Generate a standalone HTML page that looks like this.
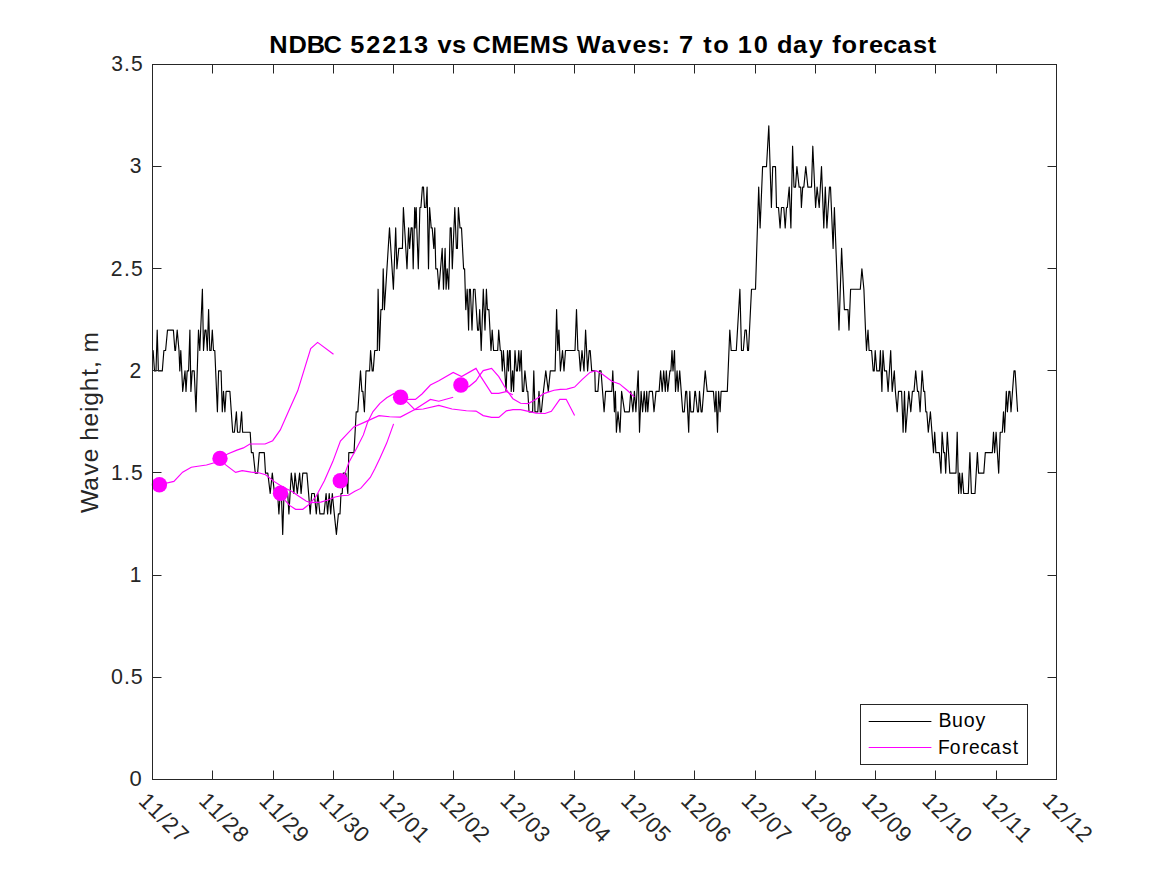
<!DOCTYPE html><html><head><meta charset="utf-8"><style>html,body{margin:0;padding:0;background:#fff;}svg{display:block;}text{font-family:"Liberation Sans",sans-serif;}</style></head><body>
<svg width="1167" height="875" viewBox="0 0 1167 875">
<rect x="0" y="0" width="1167" height="875" fill="#fff"/>
<defs><clipPath id="c"><rect x="152.5" y="64.5" width="904.0" height="715.0"/></clipPath></defs>
<polyline clip-path="url(#c)" points="151.8,350.5 153.1,350.5 154.5,370.9 156.0,370.9 157.2,330.1 158.4,370.9 162.3,370.9 163.9,350.5 165.6,350.5 167.5,330.1 173.4,330.1 174.9,350.5 175.5,350.5 177.2,330.1 179.0,350.5 179.8,370.9 180.8,350.5 182.7,391.4 185.0,370.9 186.0,391.4 187.2,370.9 188.6,370.9 189.9,330.1 190.9,391.4 192.2,370.9 194.2,370.9 196.0,411.8 198.5,330.1 199.8,350.5 202.4,289.2 203.5,350.5 205.0,330.1 206.0,330.1 207.3,350.5 208.6,309.6 209.8,350.5 211.1,350.5 212.3,330.1 213.5,350.5 214.8,350.5 217.4,411.8 218.6,370.9 221.1,370.9 222.3,411.8 223.5,391.4 224.9,411.8 226.1,391.4 229.9,391.4 232.7,432.2 234.4,432.2 236.4,411.8 237.5,432.2 239.9,432.2 241.6,411.8 242.6,432.2 250.2,432.2 251.4,452.6 253.1,452.6 255.3,473.1 257.6,473.1 259.3,452.6 264.3,452.6 265.5,473.1 267.8,473.1 270.2,493.5 272.3,473.1 274.5,493.5 277.6,493.5 278.9,513.9 280.2,493.5 281.4,493.5 282.7,534.4 284.0,493.5 287.7,493.5 288.9,513.9 290.1,493.5 291.3,473.1 293.9,493.5 295.0,473.1 297.3,493.5 299.6,473.1 301.1,493.5 302.8,473.1 306.9,473.1 308.6,493.5 310.2,513.9 311.7,493.5 314.3,493.5 316.3,513.9 317.9,493.5 319.9,513.9 324.0,513.9 326.1,493.5 327.6,513.9 329.2,493.5 330.7,513.9 332.3,493.5 334.3,513.9 336.4,534.4 338.4,513.9 340.0,513.9 341.0,493.5 342.2,493.5 343.2,473.1 345.8,473.1 347.8,493.5 348.8,452.6 354.0,452.6 356.2,411.8 357.8,411.8 360.5,370.9 361.9,391.4 362.9,391.4 364.4,411.8 366.0,370.9 369.6,370.9 370.6,350.5 372.2,370.9 373.2,370.9 374.7,350.5 377.3,350.5 378.1,289.2 379.4,350.5 380.9,309.6 382.4,309.6 383.2,268.8 384.4,309.6 389.5,227.9 393.4,289.2 395.7,227.9 396.9,268.8 398.8,248.4 402.4,248.4 403.4,207.5 407.0,268.8 408.6,227.9 409.6,248.4 411.1,227.9 412.2,227.9 413.2,268.8 414.7,207.5 415.2,227.9 416.2,207.5 416.8,227.9 418.3,268.8 419.9,207.5 420.9,207.5 422.4,187.1 423.5,187.1 424.5,207.5 426.0,207.5 427.1,187.1 428.5,268.8 429.6,207.5 431.2,227.9 432.2,227.9 433.8,248.4 434.8,227.9 435.8,268.8 437.4,268.8 438.9,289.2 442.2,248.4 443.5,289.2 445.1,248.4 446.1,289.2 447.2,268.8 448.7,289.2 450.2,227.9 451.2,227.9 452.3,268.8 454.8,207.5 456.4,248.4 457.4,248.4 458.4,207.5 460.0,227.9 461.5,227.9 463.6,268.8 464.6,268.8 465.8,309.6 467.2,289.2 468.6,330.1 469.4,289.2 470.4,289.2 472.0,330.1 473.5,289.2 475.0,289.2 477.6,330.1 478.7,330.1 479.7,309.6 481.2,350.5 483.3,289.2 485.0,330.1 486.4,289.2 487.4,309.6 488.9,309.6 491.0,350.5 492.2,330.1 493.6,350.5 497.7,350.5 498.7,330.1 500.3,350.5 501.3,350.5 502.3,370.9 503.4,350.5 506.1,391.4 507.5,350.5 508.5,370.9 509.5,350.5 510.2,350.5 511.2,391.4 512.6,370.9 513.6,391.4 515.0,350.5 516.4,370.9 517.4,370.9 518.8,350.5 519.8,370.9 521.2,350.5 522.4,391.4 523.6,391.4 524.9,370.9 527.0,391.4 527.8,391.4 529.0,411.8 532.6,411.8 533.8,370.9 535.0,411.8 537.8,411.8 539.0,391.4 540.2,411.8 541.4,411.8 543.4,391.4 545.8,370.9 548.3,391.4 550.3,370.9 555.1,370.9 556.6,309.6 557.8,350.5 558.9,330.1 560.4,370.9 562.5,350.5 564.0,370.9 565.5,350.5 575.0,350.5 576.5,309.6 577.9,350.5 578.9,350.5 580.4,370.9 582.0,350.5 584.0,370.9 585.6,330.1 587.6,370.9 589.2,350.5 590.2,350.5 591.7,370.9 594.8,370.9 595.3,391.4 597.9,391.4 599.4,370.9 601.0,370.9 604.1,411.8 605.6,391.4 611.8,391.4 612.8,370.9 614.4,411.8 615.4,391.4 616.4,432.2 618.0,411.8 620.0,432.2 621.6,391.4 624.6,411.8 629.3,411.8 630.8,391.4 632.9,411.8 634.4,391.4 635.9,411.8 638.2,370.9 639.5,432.2 641.1,391.4 642.6,411.8 644.2,391.4 645.7,411.8 646.7,391.4 647.8,411.8 649.3,391.4 652.4,391.4 654.0,411.8 656.0,391.4 659.1,391.4 660.6,370.9 662.2,391.4 663.7,370.9 665.3,391.4 666.3,370.9 667.8,391.4 669.9,370.9 670.9,370.9 672.0,350.5 673.0,370.9 674.5,350.5 675.5,391.4 677.1,370.9 678.1,391.4 679.7,370.9 682.7,411.8 684.3,411.8 685.7,391.4 686.7,391.4 688.7,432.2 689.8,391.4 690.8,411.8 693.4,411.8 694.9,391.4 695.4,391.4 697.5,411.8 698.5,411.8 699.5,391.4 701.1,411.8 702.1,411.8 705.2,370.9 707.2,391.4 713.4,391.4 715.0,411.8 716.0,391.4 717.5,432.2 718.6,391.4 720.1,411.8 721.1,391.4 727.3,391.4 729.8,330.1 731.2,350.5 736.3,350.5 739.9,289.2 741.5,350.5 743.3,350.5 745.0,330.1 746.3,330.1 747.6,350.5 748.5,350.5 751.5,289.2 755.5,289.2 758.7,187.1 760.1,227.9 762.6,166.6 766.5,166.6 768.8,125.8 771.4,207.5 772.7,166.6 775.5,166.6 776.5,207.5 778.5,207.5 780.1,227.9 781.5,207.5 783.8,207.5 785.2,227.9 786.5,207.5 787.3,207.5 789.2,187.1 790.9,227.9 792.6,146.2 794.0,187.1 795.5,187.1 796.9,166.6 799.1,187.1 800.7,187.1 801.4,207.5 802.7,187.1 803.8,187.1 805.8,166.6 807.9,187.1 811.5,187.1 812.8,146.2 815.6,207.5 817.1,187.1 819.2,207.5 821.5,166.6 823.8,227.9 825.3,187.1 826.9,227.9 829.5,187.1 830.5,187.1 833.1,248.4 834.4,207.5 839.0,330.1 841.6,248.4 844.4,309.6 848.0,309.6 849.0,330.1 850.6,289.2 860.3,289.2 861.9,268.8 863.9,289.2 865.5,330.1 866.5,350.5 868.0,330.1 869.1,350.5 871.6,350.5 873.2,370.9 874.2,370.9 875.2,350.5 876.8,370.9 879.4,370.9 880.4,350.5 881.9,391.4 883.0,350.5 884.5,370.9 886.6,370.9 888.1,391.4 890.7,350.5 892.2,391.4 894.3,370.9 895.4,391.4 897.2,411.8 898.5,391.4 901.6,391.4 903.1,432.2 904.5,391.4 905.7,432.2 908.8,391.4 910.8,411.8 912.4,391.4 914.0,391.4 915.7,370.9 917.5,391.4 918.6,391.4 920.1,411.8 922.1,370.9 923.7,391.4 924.7,391.4 925.8,411.8 926.8,411.8 928.3,432.2 930.4,411.8 933.5,452.6 934.7,432.2 935.9,452.6 939.3,452.6 941.0,473.1 942.1,432.2 943.7,452.6 944.7,452.6 945.7,473.1 947.3,432.2 949.8,473.1 956.0,473.1 957.2,432.2 958.6,493.5 959.6,473.1 961.1,493.5 962.2,473.1 963.7,493.5 968.3,493.5 969.9,452.6 971.4,493.5 975.0,493.5 977.4,452.6 978.6,473.1 983.8,473.1 985.3,452.6 992.3,452.6 993.5,432.2 994.6,452.6 996.1,432.2 998.7,473.1 1000.2,432.2 1002.3,432.2 1003.5,411.8 1004.6,432.2 1006.3,391.4 1007.4,411.8 1008.9,391.4 1009.9,391.4 1011.0,411.8 1014.0,370.9 1015.1,370.9 1017.6,411.8" fill="none" stroke="#000" stroke-width="1.15" stroke-linejoin="round"/>
<polyline clip-path="url(#c)" points="159.4,484.8 173.9,481.4 182.6,472.2 191.3,467.2 197.8,466.2 206.5,465.0 215.1,462.5 219.5,458.1 228.2,453.8 236.9,450.1 243.4,447.9 249.9,444.0 265.1,444.0 272.7,440.7 280.3,429.9 289.0,410.3 297.7,390.8 310.7,348.5 317.6,342.4 333.5,354.3" fill="none" stroke="#f0f" stroke-width="1.15"/>
<polyline clip-path="url(#c)" points="220.0,458.4 225.4,464.6 235.6,472.4 242.2,470.6 251.2,472.1 259.6,473.0 265.6,474.8 274.0,481.4 282.4,486.8 292.0,491.6 299.2,496.4 306.4,501.2 311.2,502.6 320.8,502.1 328.0,500.0 335.2,497.0 341.2,495.8 348.4,495.2 354.4,491.6 360.7,488.4 370.3,477.4 375.0,468.5 379.9,458.2 386.7,443.1 393.6,423.9" fill="none" stroke="#f0f" stroke-width="1.15"/>
<polyline clip-path="url(#c)" points="280.5,493.3 285.4,500.6 289.6,505.4 295.6,509.3 302.8,509.3 310.0,503.6 316.0,496.4 324.4,480.8 332.8,461.6 340.4,441.0 353.8,426.9 364.2,422.4 379.0,415.7 389.6,416.8 400.4,417.1 414.8,409.6 430.4,399.4 438.8,401.2 453.2,397.2" fill="none" stroke="#f0f" stroke-width="1.15"/>
<polyline clip-path="url(#c)" points="340.3,480.7 344.8,473.6 349.0,462.3 356.5,448.6 363.4,434.9 367.5,422.5 373.0,411.6 379.9,403.3 386.7,397.8 393.6,393.7 400.5,396.5 407.6,399.4 415.4,399.4 422.0,394.0 430.4,385.0 438.8,380.8 453.2,372.4 461.6,376.6 476.0,368.4 480.8,376.6 491.6,393.4 498.8,393.4 506.0,391.6 512.9,394.8" fill="none" stroke="#f0f" stroke-width="1.15"/>
<polyline clip-path="url(#c)" points="400.6,397.2 407.6,402.4 414.8,409.6 423.2,409.0 438.8,405.4 452.0,409.0 466.4,410.8 476.0,411.1 483.2,415.6 491.6,417.4 498.8,417.4 506.4,410.9 512.9,409.6 520.6,409.6 529.6,411.6 536.0,413.1 545.0,413.5 551.4,411.3 559.8,399.3 566.2,399.3 574.6,415.4" fill="none" stroke="#f0f" stroke-width="1.15"/>
<polyline clip-path="url(#c)" points="460.9,385.0 468.8,386.8 476.0,380.8 479.6,375.4 483.2,370.6 491.6,368.4 498.8,376.6 506.4,389.7 512.9,398.7 520.6,403.2 528.3,403.6 536.0,399.3 543.7,393.6 554.0,390.3 560.4,389.4 566.8,389.1 574.6,387.1 582.3,379.4 590.0,372.4 595.8,370.7 601.5,373.6 611.8,381.3 619.5,383.9 627.2,390.3 634.3,396.8" fill="none" stroke="#f0f" stroke-width="1.15"/>
<circle cx="159.4" cy="484.8" r="7.7" fill="#f0f"/>
<circle cx="220.0" cy="458.4" r="7.7" fill="#f0f"/>
<circle cx="280.5" cy="493.3" r="7.7" fill="#f0f"/>
<circle cx="340.3" cy="480.7" r="7.7" fill="#f0f"/>
<circle cx="400.6" cy="397.2" r="7.7" fill="#f0f"/>
<circle cx="460.9" cy="385.0" r="7.7" fill="#f0f"/>
<rect x="152.5" y="64.5" width="904.0" height="715.0" fill="none" stroke="#262626" stroke-width="1"/>
<path d="M152.5 779.5V770.5M152.5 64.5V73.5M212.5 779.5V770.5M212.5 64.5V73.5M273.5 779.5V770.5M273.5 64.5V73.5M333.5 779.5V770.5M333.5 64.5V73.5M393.5 779.5V770.5M393.5 64.5V73.5M453.5 779.5V770.5M453.5 64.5V73.5M514.5 779.5V770.5M514.5 64.5V73.5M574.5 779.5V770.5M574.5 64.5V73.5M634.5 779.5V770.5M634.5 64.5V73.5M694.5 779.5V770.5M694.5 64.5V73.5M755.5 779.5V770.5M755.5 64.5V73.5M815.5 779.5V770.5M815.5 64.5V73.5M875.5 779.5V770.5M875.5 64.5V73.5M935.5 779.5V770.5M935.5 64.5V73.5M996.5 779.5V770.5M996.5 64.5V73.5M1056.5 779.5V770.5M1056.5 64.5V73.5M152.5 779.5H161.5M1056.5 779.5H1047.5M152.5 677.5H161.5M1056.5 677.5H1047.5M152.5 575.5H161.5M1056.5 575.5H1047.5M152.5 472.5H161.5M1056.5 472.5H1047.5M152.5 370.5H161.5M1056.5 370.5H1047.5M152.5 268.5H161.5M1056.5 268.5H1047.5M152.5 166.5H161.5M1056.5 166.5H1047.5M152.5 64.5H161.5M1056.5 64.5H1047.5" stroke="#262626" stroke-width="1" fill="none"/>
<text x="0.53" y="0" font-size="22.60" fill="#262626" transform="translate(129.05,786.30) scale(0.9717,1)">0</text>
<text x="0.69 14.30 21.54" y="0" font-size="22.60" fill="#262626" transform="translate(110.37,684.16) scale(0.9493,1)">0.5</text>
<text x="0.74" y="0" font-size="22.60" fill="#262626" transform="translate(129.05,582.01) scale(0.9281,1)">1</text>
<text x="0.73 14.67 22.14" y="0" font-size="22.60" fill="#262626" transform="translate(110.37,479.87) scale(0.9295,1)">1.5</text>
<text x="0.49" y="0" font-size="22.60" fill="#262626" transform="translate(129.05,377.73) scale(0.9366,1)">2</text>
<text x="0.52 14.60 22.02" y="0" font-size="22.60" fill="#262626" transform="translate(110.37,275.59) scale(0.9332,1)">2.5</text>
<text x="0.84" y="0" font-size="22.60" fill="#262626" transform="translate(129.05,173.44) scale(0.9332,1)">3</text>
<text x="0.85 14.63 22.07" y="0" font-size="22.60" fill="#262626" transform="translate(110.37,71.30) scale(0.9317,1)">3.5</text>
<text x="0.50 14.29 28.11 35.22 49.26" y="0" font-size="22.60" fill="#262626" transform="translate(137.20,801.80) rotate(45) scale(0.9607,1)">11/27</text>
<text x="0.44 14.14 27.88 34.92 48.90" y="0" font-size="22.60" fill="#262626" transform="translate(197.47,801.80) rotate(45) scale(0.9678,1)">11/28</text>
<text x="0.41 14.04 27.73 34.72 48.56" y="0" font-size="22.60" fill="#262626" transform="translate(257.73,801.80) rotate(45) scale(0.9726,1)">11/29</text>
<text x="0.47 14.21 27.99 35.38 49.09" y="0" font-size="22.60" fill="#262626" transform="translate(318.00,801.80) rotate(45) scale(0.9644,1)">11/30</text>
<text x="0.46 14.02 27.95 35.30 48.92" y="0" font-size="22.60" fill="#262626" transform="translate(378.27,801.80) rotate(45) scale(0.9654,1)">12/01</text>
<text x="0.45 13.99 27.91 35.24 48.67" y="0" font-size="22.60" fill="#262626" transform="translate(438.53,801.80) rotate(45) scale(0.9669,1)">12/02</text>
<text x="0.46 14.01 27.94 35.29 49.04" y="0" font-size="22.60" fill="#262626" transform="translate(498.80,801.80) rotate(45) scale(0.9658,1)">12/03</text>
<text x="0.40 13.83 27.67 34.92 48.52" y="0" font-size="22.60" fill="#262626" transform="translate(559.07,801.80) rotate(45) scale(0.9744,1)">12/04</text>
<text x="0.48 14.09 28.06 35.44 49.13" y="0" font-size="22.60" fill="#262626" transform="translate(619.33,801.80) rotate(45) scale(0.9622,1)">12/05</text>
<text x="0.34 13.68 27.43 34.60 48.10" y="0" font-size="22.60" fill="#262626" transform="translate(679.60,801.80) rotate(45) scale(0.9819,1)">12/06</text>
<text x="0.43 13.93 27.81 35.11 48.74" y="0" font-size="22.60" fill="#262626" transform="translate(739.87,801.80) rotate(45) scale(0.9699,1)">12/07</text>
<text x="0.38 13.78 27.59 34.82 48.39" y="0" font-size="22.60" fill="#262626" transform="translate(800.13,801.80) rotate(45) scale(0.9768,1)">12/08</text>
<text x="0.35 13.69 27.45 34.62 48.06" y="0" font-size="22.60" fill="#262626" transform="translate(860.40,801.80) rotate(45) scale(0.9815,1)">12/09</text>
<text x="0.46 14.02 27.95 35.19 49.03" y="0" font-size="22.60" fill="#262626" transform="translate(920.67,801.80) rotate(45) scale(0.9654,1)">12/10</text>
<text x="0.53 14.22 28.26 35.60 49.47" y="0" font-size="22.60" fill="#262626" transform="translate(980.93,801.80) rotate(45) scale(0.9560,1)">12/11</text>
<text x="0.52 14.19 28.21 35.53 49.20" y="0" font-size="22.60" fill="#262626" transform="translate(1041.20,801.80) rotate(45) scale(0.9576,1)">12/12</text>
<text x="0.41 18.61 35.72 51.65 68.59 77.05 92.08 107.17 122.33 137.38 151.58 159.54 173.16 186.17 192.70 210.43 230.49 246.82 267.52 283.23 291.39 314.52 329.73 344.02 358.07 371.42 379.75 388.04 402.39 411.02 420.42 435.20 443.67 458.72 472.92 480.78 495.83 510.93 524.76 533.11 541.87 557.59 567.90 581.42 594.73 609.43 623.52" y="0" font-size="24.00" font-weight="bold" fill="#000" transform="translate(268.90,52.80) scale(1.0568,1)">NDBC 52213 vs CMEMS Waves: 7 to 10 day forecast</text>
<text x="-0.28 21.43 36.42 49.28 62.79 70.32 84.31 98.27 104.32 118.64 133.37 141.14 148.26 156.32" y="0" font-size="24.00" fill="#262626" transform="translate(97.90,512.80) rotate(-90) scale(1.0251,1)">Wave height, m</text>
<rect x="860.5" y="704.5" width="167" height="60" fill="#fff" stroke="#262626" stroke-width="1"/>
<path d="M868.7 721.5H931.4" stroke="#000" stroke-width="1"/>
<path d="M868.7 747.5H931.4" stroke="#f0f" stroke-width="1"/>
<text x="-0.13 13.34 25.08 36.92" y="0" font-size="19.60" fill="#000" transform="translate(938.60,726.60) scale(0.9986,1)">Buoy</text>
<text x="-0.52 11.39 23.73 31.00 42.42 52.49 64.72 75.44" y="0" font-size="19.60" fill="#000" transform="translate(938.60,753.60) scale(0.9813,1)">Forecast</text>
</svg></body></html>
